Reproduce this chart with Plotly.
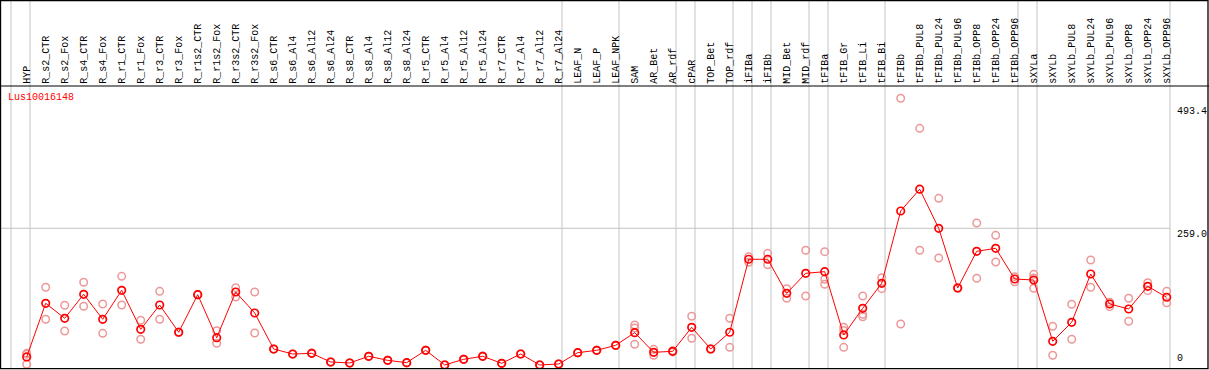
import plotly.graph_objects as go

gene = "Lus10016148"

categories = [
    "HYP", "R_s2_CTR", "R_s2_Fox", "R_s4_CTR", "R_s4_Fox", "R_r1_CTR", "R_r1_Fox",
    "R_r3_CTR", "R_r3_Fox", "R_r1s2_CTR", "R_r1s2_Fox", "R_r3s2_CTR", "R_r3s2_Fox",
    "R_s6_CTR", "R_s6_Al4", "R_s6_Al12", "R_s6_Al24", "R_s8_CTR", "R_s8_Al4",
    "R_s8_Al12", "R_s8_Al24", "R_r5_CTR", "R_r5_Al4", "R_r5_Al12", "R_r5_Al24",
    "R_r7_CTR", "R_r7_Al4", "R_r7_Al12", "R_r7_Al24", "LEAF_N", "LEAF_P", "LEAF_NPK",
    "SAM", "AR_Bet", "AR_rdf", "cPAR", "TOP_Bet", "TOP_rdf", "iFIBa", "iFIBb",
    "MID_Bet", "MID_rdf", "tFIBa", "tFIB_Gr", "tFIB_Li", "tFIB_Bi", "tFIBb",
    "tFIBb_PUL8", "tFIBb_PUL24", "tFIBb_PUL96", "tFIBb_OPP8", "tFIBb_OPP24",
    "tFIBb_OPP96", "sXYLa", "sXYLb", "sXYLb_PUL8", "sXYLb_PUL24", "sXYLb_PUL96",
    "sXYLb_OPP8", "sXYLb_OPP24", "sXYLb_OPP96",
]

# number of samples in each boxed group (grey separators drawn after each group)
group_sizes = [1, 28, 3, 3, 1, 2, 1, 1, 2, 1, 3, 7, 1, 7]

means = [
    15.2, 116.9, 88.5, 133.9, 86.6, 141.5, 67.6, 113.7, 62.0, 133.2, 51.7, 138.3, 98.5,
    30.3, 20.8, 22.1, 5.7, 3.8, 16.5, 8.8, 4.4, 27.8, 0.0, 10.8, 16.5,
    3.2, 20.8, 0.0, 1.9, 23.3, 27.8, 37.3,
    61.3, 24.0, 25.9, 71.4, 30.3, 62.0, 200.3, 200.3,
    135.8, 173.7, 176.8, 56.8, 107.4, 154.8, 291.8,
    333.1, 259.0, 145.9, 215.4, 221.1, 162.9,
    161.0, 44.9, 80.9, 172.4, 115.6, 106.1, 149.1, 128.3,
]

replicates = [
    [22.1, 20.5, 1.3], [147.2, 86.6], [113.1, 64.4], [156.7, 111.2], [115.6, 60.0],
    [168.0, 113.7], [84.7, 48.7], [139.6, 86.6], [62.5, 61.5], [133.5, 133.0],
    [65.0, 41.1], [146.5, 128.8], [138.3, 60.6],
    [30.3, 30.0], [20.8, 20.5], [22.1, 22.5], [5.7, 5.5], [3.8, 4.0], [16.5, 16.0],
    [8.8, 9.0], [4.4, 4.0], [27.8, 28.0], [0.0, 0.5], [10.8, 11.0], [16.5, 16.8],
    [3.2, 3.0], [20.8, 21.0], [0.0, 0.3], [1.9, 2.0], [23.3, 23.0], [27.8, 28.0],
    [37.3, 37.0],
    [75.8, 70.1, 39.2], [29.6, 18.4], [27.0, 24.8], [92.3, 50.6], [31.0, 29.6],
    [88.5, 33.5], [205.2, 194.6], [211.6, 190.0],
    [144.6, 126.4], [217.3, 130.7], [214.7, 162.4, 152.9], [71.4, 65.5, 33.5],
    [130.7, 96.0, 91.5], [165.4, 144.6], [505.3, 77.7],
    [448.4, 217.3], [315.8, 202.7], [146.5, 145.5], [269.0, 164.3], [245.7, 195.2],
    [167.3, 157.8],
    [171.8, 165.0, 145.3], [73.3, 18.4], [115.0, 48.7], [198.9, 147.2],
    [118.8, 110.5], [126.4, 82.8], [155.9, 140.8], [139.6, 118.0],
]

y_ticks = [0, 259.0, 493.4]
y_tick_text = ["0", "259.0", "493.4"]

# ---------------------------------------------------------------------------
n = len(categories)
xs = list(range(n))

rep_x, rep_y = [], []
for i, reps in enumerate(replicates):
    for v in reps:
        rep_x.append(i)
        rep_y.append(v)

FONT = "Liberation Mono"

fig = go.Figure()
fig.add_trace(go.Scatter(
    x=rep_x, y=rep_y, mode="markers",
    marker=dict(symbol="circle-open", size=7.5, color="#ec9898", line=dict(width=1.5)),
    hoverinfo="skip", showlegend=False,
))
fig.add_trace(go.Scatter(
    x=xs, y=means, mode="lines+markers",
    line=dict(color="#ff0000", width=1),
    marker=dict(symbol="circle-open", size=7.5, color="#ff0000", line=dict(width=1.7)),
    showlegend=False,
))

PLOT_W = 1207.0
PLOT_H = 283.0
top_paper = 1 + 86.0 / PLOT_H  # top of figure in paper units
off = 0.174

shapes = []
bounds = [0]
acc = 0
for g in group_sizes:
    acc += g
    bounds.append(acc)
for b in bounds:
    xb = b - 1 + off
    shapes.append(dict(type="line", xref="x", yref="paper", x0=xb, x1=xb,
                       y0=0, y1=top_paper, line=dict(color="#c4c4c4", width=1),
                       layer="below"))
# horizontal gridline at middle tick
shapes.append(dict(type="line", xref="x", yref="y", x0=-1.4, x1=bounds[-1] - 1 + off,
                   y0=y_ticks[1], y1=y_ticks[1], line=dict(color="#c4c4c4", width=1),
                   layer="below"))
# header separator
shapes.append(dict(type="line", xref="paper", yref="paper", x0=-0.001, x1=1.001,
                   y0=1.0, y1=1.0, line=dict(color="black", width=1.2)))
# outer frame
shapes.append(dict(type="rect", xref="paper", yref="paper", x0=-0.0004, x1=1.0,
                   y0=0.001, y1=top_paper - 0.002, line=dict(color="black", width=1.3),
                   fillcolor="rgba(0,0,0,0)"))

annotations = []
for i, c in enumerate(categories):
    annotations.append(dict(
        x=i, y=1.0, xref="x", yref="paper", text=c, showarrow=False,
        textangle=-90, xanchor="center", yanchor="bottom", yshift=0,
        font=dict(family=FONT, size=10, color="black"),
    ))
annotations.append(dict(
    x=0.004, y=0.961, xref="paper", yref="paper", text=gene, showarrow=False,
    xanchor="left", yanchor="middle",
    font=dict(family=FONT, size=10, color="#ff0000"),
))
for v, t in zip(y_ticks, y_tick_text):
    annotations.append(dict(
        x=(1176.0 - 1) / PLOT_W, y=v, xref="paper", yref="y", text=t, showarrow=False,
        xanchor="left", yanchor="bottom" if v == 0 else "top", borderpad=0,
        font=dict(family=FONT, size=10, color="black"),
    ))

x_lo = (1 - 26.7) / 19.0
x_hi = (1208 - 26.7) / 19.0
fig.update_layout(
    width=1209, height=370,
    margin=dict(l=1, r=1, t=86, b=1, pad=0),
    paper_bgcolor="white", plot_bgcolor="white",
    xaxis=dict(range=[x_lo, x_hi], showgrid=False, zeroline=False,
               showticklabels=False, ticks="", showline=False, fixedrange=True),
    yaxis=dict(range=[-7.6, 528.6], showgrid=False, zeroline=False,
               showticklabels=False, ticks="", showline=False, fixedrange=True),
    shapes=shapes, annotations=annotations,
)

fig.write_html(
    "out.html",
    config={"displayModeBar": False},
    post_script="document.body.style.margin='0';document.body.style.overflow='hidden';",
)
